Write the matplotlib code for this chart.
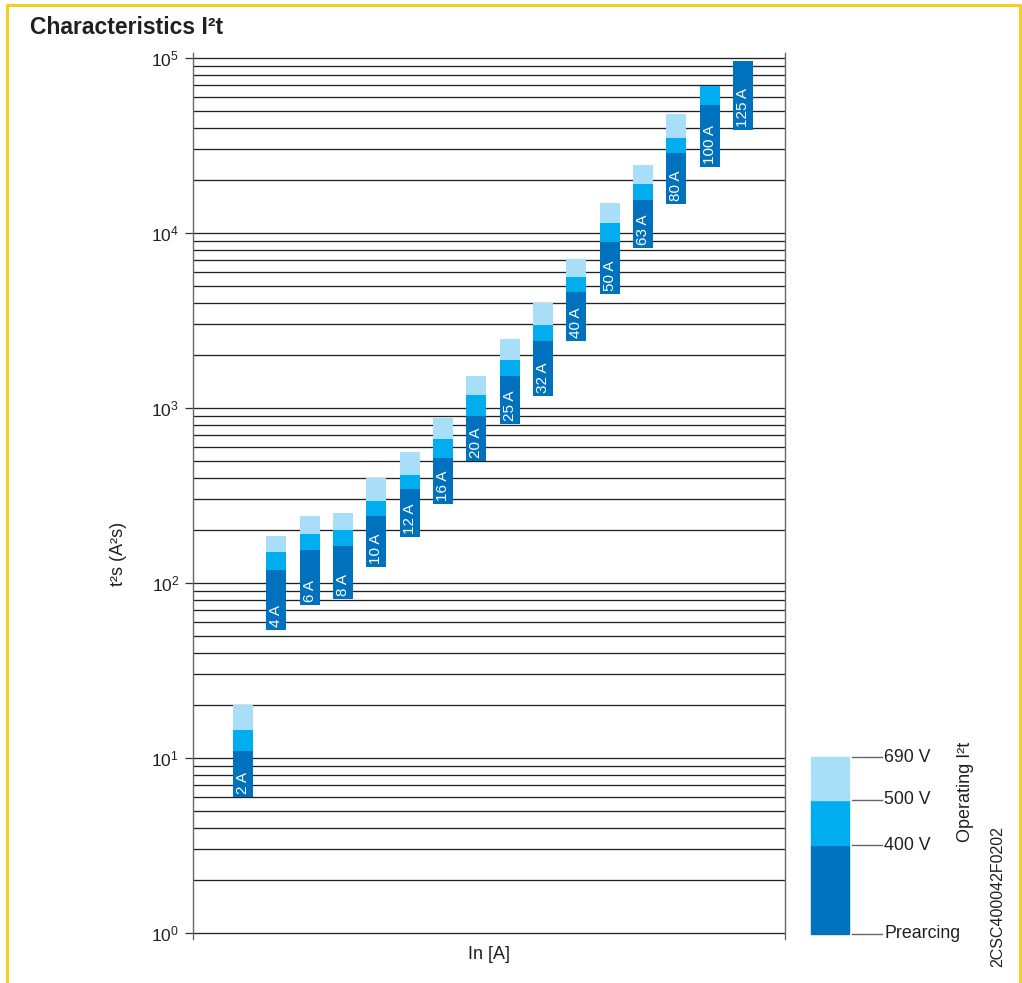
import numpy as np
import matplotlib
matplotlib.use("Agg")
import matplotlib.pyplot as plt
from matplotlib.patches import Rectangle
from matplotlib.ticker import LogLocator, LogFormatterSciNotation, NullFormatter

plt.rcParams["font.family"] = ["Liberation Sans", "DejaVu Sans"]
plt.rcParams["mathtext.fontset"] = "custom"
plt.rcParams["mathtext.rm"] = "Liberation Sans"
plt.rcParams["mathtext.it"] = "Liberation Sans:italic"

# Fuse ratings and I2t values (A2s)
ratings = ["2 A", "4 A", "6 A", "8 A", "10 A", "12 A", "16 A", "20 A",
           "25 A", "32 A", "40 A", "50 A", "63 A", "80 A", "100 A", "125 A"]
prearcing = [6, 54, 75, 81, 124, 182, 284, 496,
             810, 1175, 2415, 4480, 8210, 14700, 23930, 38630]
op_400v = [11, 119, 155, 163, 241, 344, 518, 900,
           1520, 2415, 4605, 8890, 15460, 28520, 53850, 96150]
op_500v = [14.5, 150, 190, 201, 294, 414, 665, 1190,
           1880, 2980, 5610, 11400, 19060, 34900, 69500, np.nan]
op_690v = [20, 186, 240, 250, 396, 561, 877, 1520,
           2480, 3960, 7100, 14840, 24470, 47860, np.nan, np.nan]

c_dark = "#0071BC"
c_mid = "#00ADEF"
c_light = "#A9DEF8"
txt = "#231F20"

fig = plt.figure(figsize=(10.22, 9.83), dpi=100)
ax = fig.add_axes([0.18885, 0.04446, 0.57926, 0.9019])

x = np.arange(len(ratings))
pre = np.array(prearcing, dtype=float)
v400 = np.array(op_400v, dtype=float)
v500 = np.array(op_500v, dtype=float)
v690 = np.array(op_690v, dtype=float)

w = 0.6
ax.bar(x, v400 - pre, bottom=pre, width=w, color=c_dark, zorder=3)
m = np.isfinite(v500)
ax.bar(x[m], (v500 - v400)[m], bottom=v400[m], width=w, color=c_mid, zorder=3)
m = np.isfinite(v690)
ax.bar(x[m], (v690 - v500)[m], bottom=v500[m], width=w, color=c_light, zorder=3)

for xi, lab, b in zip(x, ratings, pre):
    ax.annotate(lab, (xi, b), xytext=(0, 3), textcoords="offset pixels",
                rotation=90, ha="center", va="bottom", color="white",
                fontsize=11, zorder=4)

ax.set_yscale("log")
ax.set_ylim(10 ** -0.036, 10 ** 5.03)
ax.set_xlim(-1.5, 16.26)
ax.yaxis.set_major_locator(LogLocator(base=10, numticks=10))
ax.yaxis.set_major_formatter(LogFormatterSciNotation())
ax.yaxis.set_minor_locator(LogLocator(base=10, subs=np.arange(2, 10), numticks=20))
ax.yaxis.set_minor_formatter(NullFormatter())
ax.tick_params(axis="y", which="major", length=6, width=0.9, color="#333333",
               labelsize=12.5, labelcolor=txt, pad=4)
ax.tick_params(axis="y", which="minor", length=0)
ax.set_xticks([])
ax.grid(True, axis="y", which="both", color="#222222", linewidth=0.95, zorder=1)
ax.set_axisbelow(True)
for s in ["top", "bottom"]:
    ax.spines[s].set_visible(False)
for s in ["left", "right"]:
    ax.spines[s].set_color("#666666")
    ax.spines[s].set_linewidth(1.0)

ax.set_ylabel("t²s (A²s)", fontsize=13, color=txt)
ax.yaxis.set_label_coords(-0.112, 0.435)
ax.set_xlabel("In [A]", fontsize=13, color=txt, labelpad=5)

# overlay in pixel coordinates for frame, title and legend
ov = fig.add_axes([0, 0, 1, 1], zorder=-1)
ov.set_xlim(0, 1022)
ov.set_ylim(983, 0)
ov.axis("off")
ov.plot([7, 7, 1020, 1020], [983, 5, 5, 983], color="#F5CF1E", linewidth=2.2)
ov.text(30, 27, "Characteristics I²t", fontsize=16.5, fontweight="bold",
        color=txt, va="center", ha="left")

ov.add_patch(Rectangle((811, 845), 38, 89, color=c_dark))
ov.add_patch(Rectangle((811, 800), 38, 45, color=c_mid))
ov.add_patch(Rectangle((811, 757), 38, 43, color=c_light))
for yy, lab in [(757, "690 V"), (800, "500 V"), (845, "400 V"), (934, "Prearcing")]:
    ov.plot([852, 882], [yy, yy], color="#666666", linewidth=1.0)
    ov.text(884, yy, lab, fontsize=12.8, color=txt, va="center", ha="left")
ov.text(965, 792, "Operating I²t", rotation=90, fontsize=13, color=txt,
        va="center", ha="center")
ov.text(998, 897, "2CSC400042F0202", rotation=90, fontsize=11.5, color=txt,
        va="center", ha="center")

fig.savefig("out.png", dpi=100)
